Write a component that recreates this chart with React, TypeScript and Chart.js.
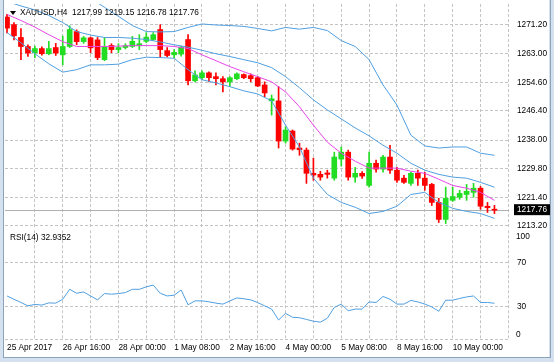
import React, { useEffect, useRef } from 'react';
import { Chart, registerables } from 'chart.js';

Chart.register(...registerables);

// ---------- data ----------
const SYMBOL_TITLE = 'XAUUSD,H4  1217.99 1219.15 1216.78 1217.76';
const RSI_TITLE = 'RSI(14) 32.9352';

const OPEN = [
  1273.5, 1271.3, 1267.6, 1265.0, 1263.2, 1264.4, 1262.9, 1264.7, 1262.6, 1265.0,
  1269.3, 1266.4, 1267.5, 1266.9, 1261.2, 1265.3, 1264.1, 1264.7, 1265.0, 1265.2,
  1266.5, 1267.0, 1269.9, 1263.8, 1262.6, 1262.8, 1267.0, 1255.1, 1256.0, 1257.4,
  1256.3, 1255.7, 1254.8, 1255.7, 1256.9, 1256.6, 1256.0, 1253.9, 1249.3, 1249.3,
  1237.7, 1240.6, 1235.7, 1235.1, 1228.4, 1228.1, 1228.5, 1227.0, 1232.5, 1234.5,
  1227.3, 1228.4, 1224.9, 1231.3, 1229.6, 1233.1, 1229.3, 1227.0, 1225.5, 1228.4,
  1227.0, 1225.2, 1220.0, 1215.1, 1220.6, 1221.5, 1222.3, 1222.9, 1224.1, 1218.9,
  1217.99,
];
const HIGH = [
  1274.3, 1271.9, 1270.2, 1265.5, 1265.1, 1264.9, 1266.5, 1265.9, 1268.0, 1271.0,
  1269.8, 1267.9, 1267.7, 1267.6, 1267.6, 1265.8, 1265.8, 1265.8, 1267.9, 1268.4,
  1269.0, 1269.0, 1271.3, 1264.7, 1264.1, 1265.1, 1268.4, 1258.0, 1258.0, 1257.7,
  1257.4, 1256.3, 1256.3, 1257.4, 1257.1, 1257.1, 1256.3, 1254.8, 1251.0, 1253.4,
  1241.8, 1240.9, 1237.1, 1235.7, 1232.8, 1229.0, 1229.3, 1234.5, 1236.0, 1235.1,
  1230.1, 1228.9, 1234.5, 1232.2, 1233.6, 1236.5, 1230.1, 1227.8, 1228.7, 1229.3,
  1228.7, 1225.5, 1221.2, 1224.4, 1224.4, 1223.5, 1225.2, 1225.5, 1224.6, 1220.0,
  1219.15,
];
const LOW = [
  1268.9, 1266.9, 1261.2, 1262.1, 1261.8, 1262.5, 1262.6, 1262.4, 1259.7, 1264.7,
  1265.5, 1265.9, 1263.2, 1261.2, 1260.9, 1263.2, 1263.2, 1264.3, 1264.7, 1264.1,
  1266.1, 1266.7, 1261.9, 1262.0, 1261.8, 1262.2, 1253.9, 1254.8, 1255.4, 1254.8,
  1253.9, 1251.9, 1253.4, 1255.4, 1255.7, 1254.8, 1253.4, 1250.5, 1245.2, 1235.7,
  1237.1, 1235.1, 1233.6, 1225.5, 1226.4, 1226.4, 1227.0, 1226.4, 1230.5, 1226.4,
  1225.8, 1226.9, 1224.4, 1228.7, 1228.7, 1228.4, 1225.8, 1225.5, 1224.9, 1224.9,
  1223.5, 1219.1, 1214.2, 1213.9, 1220.3, 1220.9, 1220.6, 1221.5, 1218.0, 1217.1,
  1216.78,
];
const CLOSE = [
  1270.3, 1268.1, 1265.0, 1263.1, 1264.4, 1262.9, 1264.4, 1263.1, 1265.0, 1269.9,
  1266.4, 1267.5, 1264.6, 1261.8, 1265.0, 1264.1, 1264.7, 1265.2, 1266.5, 1265.8,
  1267.7, 1268.4, 1264.1, 1262.4, 1263.3, 1264.8, 1255.1, 1256.8, 1257.4, 1256.0,
  1255.7, 1254.8, 1256.0, 1257.1, 1256.0, 1255.7, 1253.6, 1251.6, 1249.9, 1237.7,
  1240.9, 1235.4, 1235.2, 1228.4, 1227.9, 1227.3, 1228.1, 1233.1, 1234.5, 1227.3,
  1228.4, 1227.6, 1231.3, 1229.6, 1233.1, 1229.3, 1226.4, 1225.8, 1228.4, 1227.0,
  1224.9, 1220.0, 1215.1, 1221.2, 1221.7, 1222.6, 1223.2, 1224.1, 1218.9, 1218.5,
  1217.76,
];

// indicator readings, sampled at these bar numbers
const SAMPLE_BARS = [
  0, 2, 4, 6, 8, 10, 12, 14, 16, 18, 20, 22, 24, 26, 28, 30, 32, 34,
  36, 38, 40, 42, 44, 46, 48, 50, 52, 54, 56, 58, 60, 62, 64, 66, 68, 70,
];
const BB_UPPER = [
  null, null, null, null, null, null, 1278.9, 1276.3, 1273.7, 1271.05, 1269.3, 1269.2,
  1269.3, 1270.5, 1271.5, 1271.2, 1271.05, 1270.8, 1270.2, 1269.5, 1270.5, 1270.0,
  1270.5, 1269.6, 1266.7, 1265.0, 1261.2, 1253.9, 1248.1, 1239.4, 1236.3, 1235.7,
  1236.0, 1236.0, 1234.2, 1233.6,
];
const BB_MIDDLE = [
  1278.0, 1276.7, 1275.55, 1273.96, 1271.9, 1269.3, 1268.3, 1267.6, 1267.6, 1267.4,
  1267.0, 1266.3, 1265.5, 1264.8, 1263.9, 1262.9, 1262.1, 1261.2, 1260.3, 1258.9,
  1256.3, 1253.1, 1249.6, 1246.7, 1244.1, 1241.5, 1239.2, 1236.5, 1234.2, 1231.3,
  1229.3, 1228.1, 1227.3, 1227.0, 1225.8, 1224.4,
];
const BB_LOWER = [
  1269.0, 1266.1, 1262.9, 1260.0, 1257.6, 1258.3, 1259.7, 1259.7, 1259.9, 1261.2,
  1261.9, 1261.8, 1261.6, 1258.3, 1255.4, 1254.5, 1253.4, 1252.2, 1251.3, 1249.3,
  1242.3, 1236.0, 1227.0, 1222.3, 1220.0, 1218.6, 1216.8, 1217.4, 1218.9, 1222.3,
  1222.9, 1220.0, 1218.3, 1217.4, 1216.8, 1215.4,
];
const MA = [
  1274.25, 1272.5, 1270.6, 1268.4, 1266.4, 1265.0, 1265.0, 1265.0, 1265.1, 1265.25,
  1265.25, 1265.25, 1265.0, 1264.4, 1262.6, 1260.9, 1259.2, 1257.7, 1256.3, 1254.8,
  1251.9, 1247.6, 1242.3, 1237.4, 1234.2, 1231.9, 1229.9, 1229.9, 1229.9, 1229.0,
  1228.4, 1226.7, 1224.9, 1224.1, 1222.9, 1220.6,
];
const RSI = [
  39.6, 36.5, 33.6, 30.5, 31.8, 31.2, 33.2, 33.0, 36.6, 45.7,
  42.1, 43.3, 39.6, 36.0, 41.8, 41.2, 41.8, 42.7, 45.7, 45.7,
  48.0, 49.6, 42.1, 39.6, 40.3, 45.1, 31.5, 35.1, 35.1, 34.2,
  33.0, 32.1, 35.0, 37.8, 37.0, 36.0, 33.5, 30.5, 27.5, 17.5,
  23.6, 20.0, 19.6, 18.0, 16.4, 15.5, 19.1, 29.1, 32.1, 26.0,
  27.5, 27.5, 34.1, 33.6, 39.1, 36.6, 32.1, 32.1, 35.5, 34.1,
  32.1, 29.5, 25.5, 35.7, 35.7, 37.3, 38.7, 39.6, 33.6, 33.6,
  32.9,
];

const TIME_LABELS = [
  '25 Apr 2017', '26 Apr 16:00', '28 Apr 00:00', '1 May 08:00', '2 May 16:00',
  '4 May 00:00', '5 May 08:00', '8 May 16:00', '10 May 00:00',
];
const LABEL_EVERY = 8; // bars between time labels
const GRID_EVERY = 4; // bars between vertical grid lines
const PRICE_TICKS = [1271.2, 1263.0, 1254.6, 1246.4, 1238.0, 1229.8, 1221.4, 1213.2];
const RSI_GRID = [0, 30, 70];
const RSI_LABELS = [30, 70];
const LAST_PRICE = CLOSE[CLOSE.length - 1];

// ---------- styles ----------
const FONT_FAMILY = "'Liberation Sans', Arial, sans-serif";
const FONT_SIZE = 8.3;
const FONT = { family: FONT_FAMILY, size: FONT_SIZE };
const TEXT = '#000000';
const GRID = '#c4c4c4';
const BULL = '#22dd22';
const BEAR = '#ff0000';
const BAND = '#4f9fe0';
const MAG = '#e845e8';

const X_MIN = -0.29;
const X_MAX = 72.09;
const Y_MIN = 1212.33;
const Y_MAX = 1277.26;

const gridBarTicks = () => {
  const t = [];
  for (let b = 0; b <= X_MAX; b += GRID_EVERY) t.push({ value: b });
  return t;
};

const bidLinePlugin = {
  id: 'bidLine',
  beforeDatasetsDraw(chart) {
    const y = chart.scales.y;
    const area = chart.chartArea;
    const py = Math.round(y.getPixelForValue(LAST_PRICE)) + 0.5;
    const ctx = chart.ctx;
    ctx.save();
    ctx.strokeStyle = '#b0b0b0';
    ctx.lineWidth = 1;
    ctx.beginPath();
    ctx.moveTo(area.left, py);
    ctx.lineTo(area.right, py);
    ctx.stroke();
    ctx.restore();
  },
};

export default function App() {
  const mainRef = useRef(null);
  const rsiRef = useRef(null);

  useEffect(() => {
    const idx = CLOSE.map((_, i) => i);
    const colors = idx.map((i) => (CLOSE[i] >= OPEN[i] ? BULL : BEAR));
    const bodies = idx.map((i) => ({ x: i, y: [Math.min(OPEN[i], CLOSE[i]), Math.max(OPEN[i], CLOSE[i])] }));
    const wicks = idx.map((i) => ({ x: i, y: [LOW[i], HIGH[i]] }));
    const pts = (arr) => SAMPLE_BARS.map((b, k) => ({ x: b, y: arr[k] }));
    const lineDs = (label, arr, color) => ({
      type: 'line', label, data: pts(arr), borderColor: color, borderWidth: 1,
      pointRadius: 0, tension: 0, order: 1,
    });

    const main = new Chart(mainRef.current, {
      type: 'bar',
      data: {
        datasets: [
          lineDs('MA', MA, MAG),
          lineDs('BB upper', BB_UPPER, BAND),
          lineDs('BB middle', BB_MIDDLE, BAND),
          lineDs('BB lower', BB_LOWER, BAND),
          { type: 'bar', label: 'Body', data: bodies, backgroundColor: colors, barThickness: 5, grouped: false, minBarLength: 1, order: 2 },
          { type: 'bar', label: 'Wick', data: wicks, backgroundColor: colors, barThickness: 1, grouped: false, order: 3 },
        ],
      },
      plugins: [bidLinePlugin],
      options: {
        responsive: false,
        maintainAspectRatio: false,
        animation: false,
        layout: { padding: { left: 1, top: 4, right: 0, bottom: 7 } },
        plugins: { legend: { display: false }, tooltip: { enabled: false }, title: { display: false } },
        scales: {
          x: {
            type: 'linear', min: X_MIN, max: X_MAX, offset: false, bounds: 'data',
            afterBuildTicks: (s) => { s.ticks = gridBarTicks(); },
            ticks: { display: false, autoSkip: false },
            grid: { offset: false, drawTicks: false, color: (c) => (c.tick && c.tick.value === 0 ? 'rgba(0,0,0,0)' : GRID) },
            border: { display: false, dash: [3, 2] },
            afterFit: (s) => { s.height = 0; s.paddingLeft = 0; s.paddingRight = 0; },
          },
          y: {
            type: 'linear', position: 'right', min: Y_MIN, max: Y_MAX, bounds: 'data',
            afterBuildTicks: (s) => { s.ticks = [...PRICE_TICKS, LAST_PRICE].sort((a, b) => a - b).map((v) => ({ value: v })); },
            ticks: {
              autoSkip: false, padding: 8, font: FONT,
              color: (c) => (c.tick && c.tick.value === LAST_PRICE ? '#ffffff' : TEXT),
              showLabelBackdrop: (c) => !!(c.tick && c.tick.value === LAST_PRICE),
              backdropColor: '#000000',
              backdropPadding: { left: 3, right: 5, top: 1, bottom: 0 },
              callback: (v) => Number(v).toFixed(2),
            },
            grid: { drawTicks: false, color: (c) => (c.tick && c.tick.value === LAST_PRICE ? 'rgba(0,0,0,0)' : GRID) },
            border: { display: false, dash: [3, 2] },
            afterFit: (s) => { s.width = 41; s.paddingTop = 0; s.paddingBottom = 0; },
          },
        },
      },
    });

    const rsi = new Chart(rsiRef.current, {
      type: 'line',
      data: {
        datasets: [{
          label: 'RSI(14)', data: RSI.map((v, i) => ({ x: i, y: v })), borderColor: BAND,
          borderWidth: 1, pointRadius: 0, tension: 0,
        }],
      },
      options: {
        responsive: false,
        maintainAspectRatio: false,
        animation: false,
        layout: { padding: { left: 1, top: 1.3, right: 0, bottom: 0 } },
        plugins: { legend: { display: false }, tooltip: { enabled: false } },
        scales: {
          x: {
            type: 'linear', min: X_MIN, max: X_MAX, offset: false, bounds: 'data',
            afterBuildTicks: (s) => { s.ticks = gridBarTicks(); },
            ticks: {
              autoSkip: false, maxRotation: 0, minRotation: 0, align: 'start', padding: 4,
              font: FONT, color: TEXT,
              callback: (v) => (v % LABEL_EVERY === 0 ? TIME_LABELS[v / LABEL_EVERY] || '' : ''),
            },
            grid: { offset: false, drawTicks: false, color: (c) => (c.tick && c.tick.value === 0 ? 'rgba(0,0,0,0)' : GRID) },
            border: { display: false, dash: [3, 2] },
            afterFit: (s) => { s.height = 18; s.paddingLeft = 0; s.paddingRight = 0; },
          },
          y: {
            type: 'linear', position: 'right', min: 0, max: 100, bounds: 'data',
            afterBuildTicks: (s) => { s.ticks = RSI_GRID.map((v) => ({ value: v })); },
            ticks: {
              autoSkip: false, padding: 8, font: FONT, color: TEXT,
              callback: (v) => (RSI_LABELS.includes(v) ? String(v) : ''),
            },
            grid: { drawTicks: false, color: GRID },
            border: { display: false, dash: [3, 2] },
            afterFit: (s) => { s.width = 41; s.paddingTop = 0; s.paddingBottom = 0; },
          },
        },
      },
    });

    return () => { main.destroy(); rsi.destroy(); };
  }, []);

  const txt = { position: 'absolute', font: `${FONT_SIZE}px ${FONT_FAMILY}`, color: TEXT, lineHeight: '11px', whiteSpace: 'pre' };

  return (
    <div style={{ position: 'fixed', left: 0, top: 0, width: 554, height: 362, background: '#d5e1ef', overflow: 'hidden' }}>
      <div style={{ position: 'absolute', left: 4, top: 0, width: 545, height: 357, background: '#ffffff' }} />
      <div style={{ position: 'absolute', left: 3, top: 0, width: 1, height: 358, background: '#8da2bb' }} />
      <div style={{ position: 'absolute', left: 3, top: 357, width: 548, height: 1, background: '#8da2bb' }} />
      <div style={{ position: 'absolute', left: 550, top: 0, width: 1, height: 358, background: '#8da2bb' }} />
      <canvas ref={mainRef} width={546} height={236} style={{ position: 'absolute', left: 4, top: 0 }} />
      <canvas ref={rsiRef} width={546} height={128} style={{ position: 'absolute', left: 4, top: 229 }} />
      <div style={{ position: 'absolute', left: 10, top: 11, width: 0, height: 0, borderLeft: '3px solid transparent', borderRight: '3px solid transparent', borderTop: '4px solid #000' }} />
      <div style={{ ...txt, left: 20, top: 7 }}>{SYMBOL_TITLE}</div>
      <div style={{ ...txt, left: 10, top: 232 }}>{RSI_TITLE}</div>
      <div style={{ ...txt, left: 516, top: 231 }}>100</div>
      <div style={{ ...txt, left: 516, top: 329 }}>0</div>
    </div>
  );
}
